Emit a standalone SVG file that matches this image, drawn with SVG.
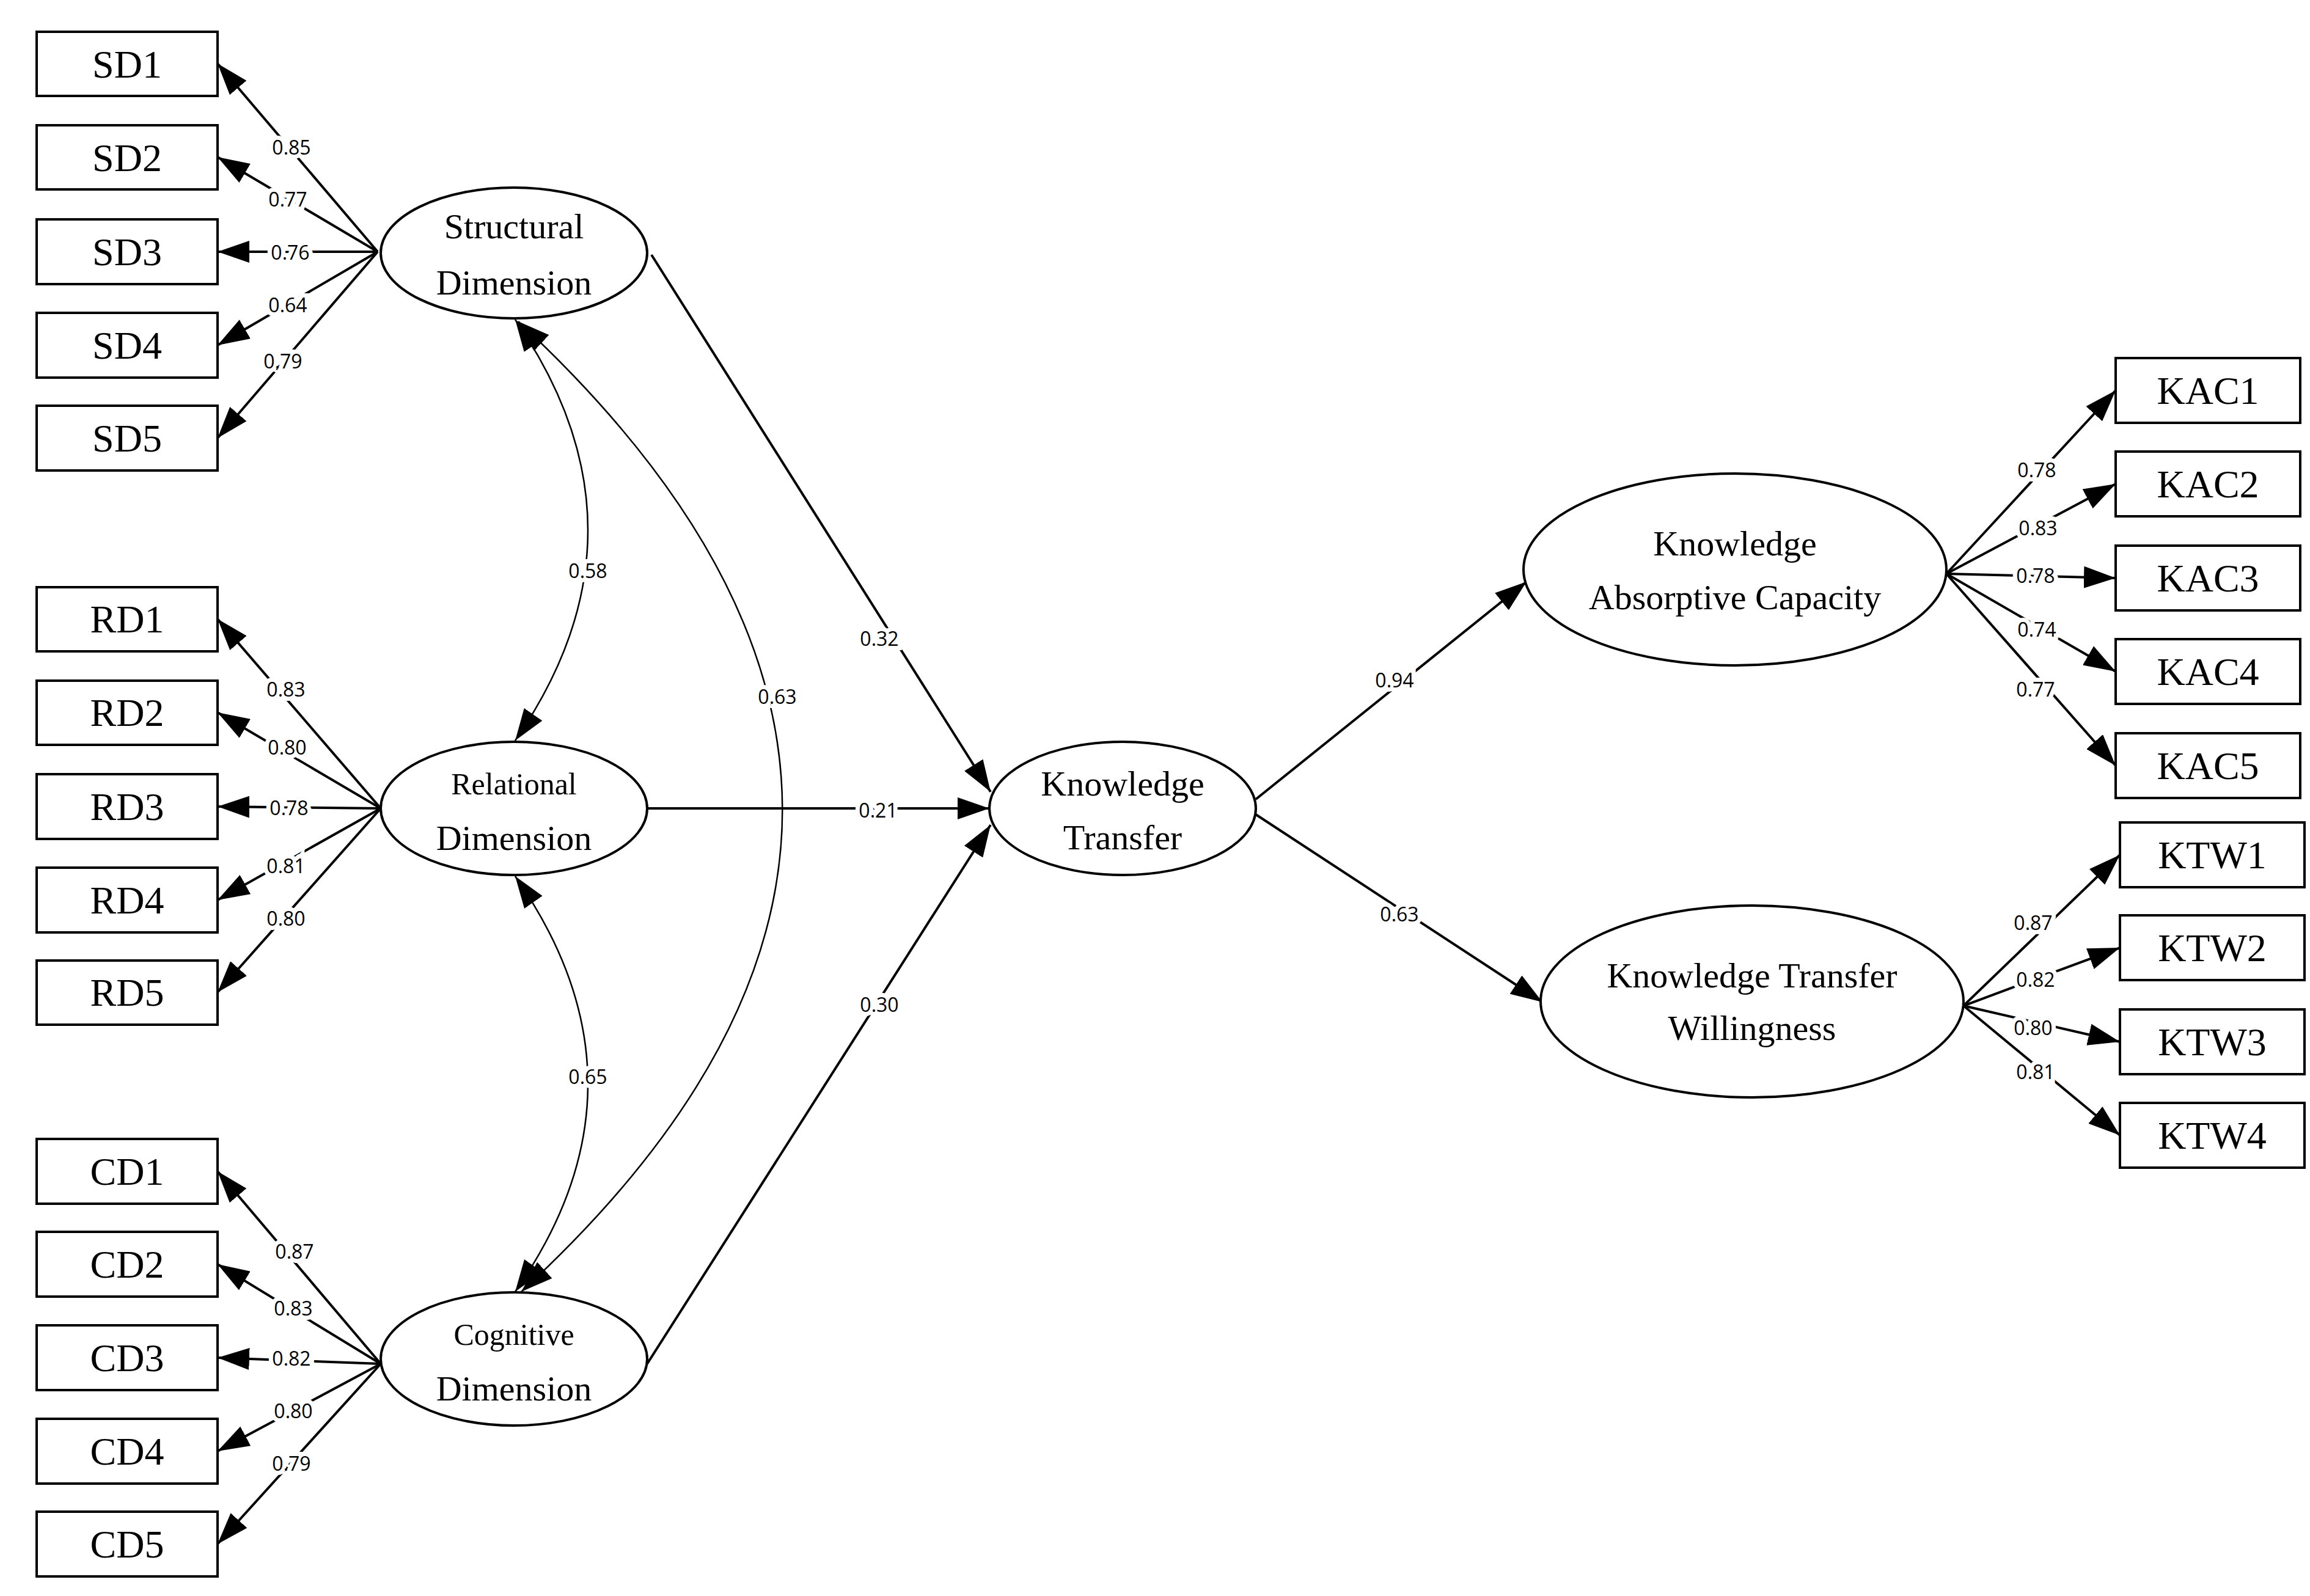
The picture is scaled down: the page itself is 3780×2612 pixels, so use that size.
<svg xmlns="http://www.w3.org/2000/svg" width="3780" height="2612" viewBox="0 0 3780 2612">
<style>
.box{fill:#fff;stroke:#000;stroke-width:4}
.ell{fill:#fff;stroke:#000;stroke-width:4}
.bt{font-family:"Liberation Serif",serif;font-size:64px;text-anchor:middle;dominant-baseline:central}
.et{font-family:"Liberation Serif",serif;font-size:58px;text-anchor:middle;dominant-baseline:central}
.es{font-family:"Liberation Serif",serif;font-size:50px;text-anchor:middle;dominant-baseline:central}
.ln{stroke:#000;stroke-width:4;fill:none;marker-end:url(#ah)}
.cv{stroke:#000;stroke-width:2.5;fill:none;marker-start:url(#ahs);marker-end:url(#ah)}
.lb{font-family:"Open Sans","DejaVu Sans",sans-serif;font-size:32px;text-anchor:middle;dominant-baseline:central;stroke:#fff;stroke-width:14;paint-order:stroke;fill:#000}
</style>
<defs>
<marker id="ah" markerUnits="userSpaceOnUse" markerWidth="52" markerHeight="36" refX="52" refY="18" orient="auto"><path d="M0,0 L52,18 L0,36 z" fill="#000"/></marker>
<marker id="ahs" markerUnits="userSpaceOnUse" markerWidth="52" markerHeight="36" refX="0" refY="18" orient="auto"><path d="M52,0 L0,18 L52,36 z" fill="#000"/></marker>
</defs>
<rect width="3780" height="2612" fill="#fff"/>
<g id="connectors">
<line class="ln" x1="618" y1="412" x2="356" y2="104"/>
<line class="ln" x1="618" y1="412" x2="356" y2="257"/>
<line class="ln" x1="618" y1="412" x2="356" y2="412"/>
<line class="ln" x1="618" y1="412" x2="356" y2="565"/>
<line class="ln" x1="618" y1="412" x2="356" y2="717"/>
<line class="ln" x1="623" y1="1323" x2="356" y2="1013"/>
<line class="ln" x1="623" y1="1323" x2="356" y2="1166"/>
<line class="ln" x1="623" y1="1323" x2="356" y2="1320"/>
<line class="ln" x1="623" y1="1323" x2="356" y2="1473"/>
<line class="ln" x1="623" y1="1323" x2="356" y2="1624"/>
<line class="ln" x1="623" y1="2232" x2="356" y2="1917"/>
<line class="ln" x1="623" y1="2232" x2="356" y2="2069"/>
<line class="ln" x1="623" y1="2232" x2="356" y2="2222"/>
<line class="ln" x1="623" y1="2232" x2="356" y2="2375"/>
<line class="ln" x1="623" y1="2232" x2="356" y2="2527"/>
<line class="ln" x1="3185" y1="939" x2="3462" y2="639"/>
<line class="ln" x1="3185" y1="939" x2="3462" y2="792"/>
<line class="ln" x1="3185" y1="939" x2="3462" y2="946"/>
<line class="ln" x1="3185" y1="939" x2="3462" y2="1099"/>
<line class="ln" x1="3185" y1="939" x2="3462" y2="1253"/>
<line class="ln" x1="3213" y1="1646" x2="3469" y2="1399"/>
<line class="ln" x1="3213" y1="1646" x2="3469" y2="1551"/>
<line class="ln" x1="3213" y1="1646" x2="3469" y2="1705"/>
<line class="ln" x1="3213" y1="1646" x2="3469" y2="1858"/>
<line class="ln" x1="1066" y1="417" x2="1621" y2="1296"/>
<line class="ln" x1="1059" y1="1323" x2="1619" y2="1323"/>
<line class="ln" x1="1059" y1="2232" x2="1621" y2="1350"/>
<line class="ln" x1="2055" y1="1308" x2="2498" y2="952"/>
<line class="ln" x1="2055" y1="1333" x2="2524" y2="1640"/>
<path class="cv" d="M843,523 Q1081,868 843,1212"/>
<path class="cv" d="M843,1434 Q1081,1774 843,2114"/>
<path class="cv" d="M848,526 Q1710,1326 853,2114"/>
<text class="lb" x="477" y="240">0.85</text>
<text class="lb" x="471" y="325">0.77</text>
<text class="lb" x="475" y="412">0.76</text>
<text class="lb" x="471" y="498">0.64</text>
<text class="lb" x="463" y="590">0.79</text>
<text class="lb" x="468" y="1127">0.83</text>
<text class="lb" x="470" y="1222">0.80</text>
<text class="lb" x="473" y="1321">0.78</text>
<text class="lb" x="468" y="1416">0.81</text>
<text class="lb" x="468" y="1502">0.80</text>
<text class="lb" x="482" y="2047">0.87</text>
<text class="lb" x="480" y="2140">0.83</text>
<text class="lb" x="477" y="2222">0.82</text>
<text class="lb" x="480" y="2308">0.80</text>
<text class="lb" x="477" y="2394">0.79</text>
<text class="lb" x="3333" y="768">0.78</text>
<text class="lb" x="3335" y="863">0.83</text>
<text class="lb" x="3331" y="941">0.78</text>
<text class="lb" x="3333" y="1029">0.74</text>
<text class="lb" x="3331" y="1127">0.77</text>
<text class="lb" x="3327" y="1509">0.87</text>
<text class="lb" x="3331" y="1602">0.82</text>
<text class="lb" x="3327" y="1681">0.80</text>
<text class="lb" x="3331" y="1753">0.81</text>
<text class="lb" x="1439" y="1044">0.32</text>
<text class="lb" x="1437" y="1325">0.21</text>
<text class="lb" x="1439" y="1643">0.30</text>
<text class="lb" x="2282" y="1112">0.94</text>
<text class="lb" x="2290" y="1495">0.63</text>
<text class="lb" x="962" y="933">0.58</text>
<text class="lb" x="962" y="1761">0.65</text>
<text class="lb" x="1272" y="1139">0.63</text>
</g>
<g id="SD1"><rect class="box" x="60" y="52" width="296" height="105"/><text class="bt" x="208" y="105">SD1</text></g>
<g id="SD2"><rect class="box" x="60" y="205" width="296" height="105"/><text class="bt" x="208" y="258">SD2</text></g>
<g id="SD3"><rect class="box" x="60" y="359" width="296" height="106"/><text class="bt" x="208" y="412">SD3</text></g>
<g id="SD4"><rect class="box" x="60" y="512" width="296" height="106"/><text class="bt" x="208" y="565">SD4</text></g>
<g id="SD5"><rect class="box" x="60" y="664" width="296" height="106"/><text class="bt" x="208" y="717">SD5</text></g>
<g id="RD1"><rect class="box" x="60" y="961" width="296" height="105"/><text class="bt" x="208" y="1013">RD1</text></g>
<g id="RD2"><rect class="box" x="60" y="1114" width="296" height="105"/><text class="bt" x="208" y="1166">RD2</text></g>
<g id="RD3"><rect class="box" x="60" y="1267" width="296" height="106"/><text class="bt" x="208" y="1320">RD3</text></g>
<g id="RD4"><rect class="box" x="60" y="1420" width="296" height="106"/><text class="bt" x="208" y="1473">RD4</text></g>
<g id="RD5"><rect class="box" x="60" y="1572" width="296" height="105"/><text class="bt" x="208" y="1624">RD5</text></g>
<g id="CD1"><rect class="box" x="60" y="1864" width="296" height="106"/><text class="bt" x="208" y="1917">CD1</text></g>
<g id="CD2"><rect class="box" x="60" y="2016" width="296" height="106"/><text class="bt" x="208" y="2069">CD2</text></g>
<g id="CD3"><rect class="box" x="60" y="2169" width="296" height="106"/><text class="bt" x="208" y="2222">CD3</text></g>
<g id="CD4"><rect class="box" x="60" y="2322" width="296" height="106"/><text class="bt" x="208" y="2375">CD4</text></g>
<g id="CD5"><rect class="box" x="60" y="2474" width="296" height="106"/><text class="bt" x="208" y="2527">CD5</text></g>
<g id="KAC1"><rect class="box" x="3462" y="586" width="302" height="106"/><text class="bt" x="3613" y="639">KAC1</text></g>
<g id="KAC2"><rect class="box" x="3462" y="739" width="302" height="106"/><text class="bt" x="3613" y="792">KAC2</text></g>
<g id="KAC3"><rect class="box" x="3462" y="893" width="302" height="106"/><text class="bt" x="3613" y="946">KAC3</text></g>
<g id="KAC4"><rect class="box" x="3462" y="1046" width="302" height="106"/><text class="bt" x="3613" y="1099">KAC4</text></g>
<g id="KAC5"><rect class="box" x="3462" y="1200" width="302" height="106"/><text class="bt" x="3613" y="1253">KAC5</text></g>
<g id="KTW1"><rect class="box" x="3469" y="1346" width="302" height="106"/><text class="bt" x="3620" y="1399">KTW1</text></g>
<g id="KTW2"><rect class="box" x="3469" y="1498" width="302" height="106"/><text class="bt" x="3620" y="1551">KTW2</text></g>
<g id="KTW3"><rect class="box" x="3469" y="1652" width="302" height="106"/><text class="bt" x="3620" y="1705">KTW3</text></g>
<g id="KTW4"><rect class="box" x="3469" y="1805" width="302" height="106"/><text class="bt" x="3620" y="1858">KTW4</text></g>
<g id="StructuralDimension"><ellipse class="ell" cx="841" cy="414" rx="218" ry="107"/><text class="et" x="841" y="370">Structural</text><text class="et" x="841" y="462">Dimension</text></g>
<g id="RelationalDimension"><ellipse class="ell" cx="841" cy="1323" rx="218" ry="109"/><text class="es" x="841" y="1283">Relational</text><text class="et" x="841" y="1371">Dimension</text></g>
<g id="CognitiveDimension"><ellipse class="ell" cx="841" cy="2224" rx="218" ry="109"/><text class="es" x="841" y="2184">Cognitive</text><text class="et" x="841" y="2272">Dimension</text></g>
<g id="KnowledgeTransfer"><ellipse class="ell" cx="1837" cy="1323" rx="218" ry="109"/><text class="et" x="1837" y="1282">Knowledge</text><text class="et" x="1837" y="1370">Transfer</text></g>
<g id="KnowledgeAbsorptiveCapacity"><ellipse class="ell" cx="2839" cy="932" rx="346" ry="157"/><text class="et" x="2839" y="889">Knowledge</text><text class="et" x="2839" y="977">Absorptive Capacity</text></g>
<g id="KnowledgeTransferWillingness"><ellipse class="ell" cx="2867" cy="1639" rx="346" ry="157"/><text class="et" x="2867" y="1596">Knowledge Transfer</text><text class="et" x="2867" y="1682">Willingness</text></g>
</svg>
